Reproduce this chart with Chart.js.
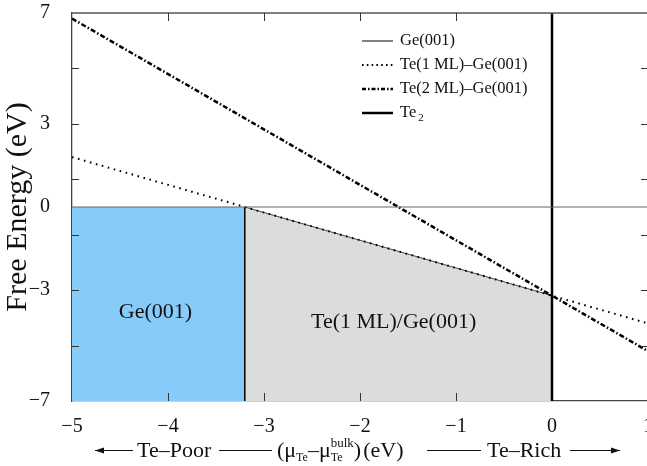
<!DOCTYPE html>
<html>
<head>
<meta charset="utf-8">
<script src="https://cdn.jsdelivr.net/npm/chart.js@4/dist/chart.umd.min.js"></script>
<style>
  html, body { margin: 0; padding: 0; overflow: hidden; background: #fff; }
  #wrap { width: 660px; height: 466px; }
</style>
</head>
<body>
<div id="wrap"><canvas id="chart"></canvas></div>
<script>
// chemical potential range (eV) and free energies of each surface
const muTe = [-5, 1];
const freeGe = [0, 0];
const freeTe1ML = [1.8, -4.2];
const freeTe2ML = [6.8, -5.2];
// Te2 bulk limit (vertical line)
const te2Mu = [0, 0];
const te2Free = [-7, 7];
// stable phase regions: Ge(001) from -5 to -3.2, Te(1 ML) from -3.2 to 0
const geRegionMu = [-5, -3.2];
const geRegionFree = [0, 0];
const teRegionMu = [-3.2, 0];
const teRegionFree = [0, -3.2];
const xTicks = [-5, -4, -3, -2, -1, 0, 1];
const yTicks = [-7, -3, 0, 3, 7];
const yMinorTicks = [5, 3, 1, -1, -3, -5];
const xMinorTicks = [-4, -3, -2, -1];
const legendLabels = ['Ge(001)', 'Te(1 ML)–Ge(001)', 'Te(2 ML)–Ge(001)', 'Te'];

const SERIF = '"Liberation Serif", "Times New Roman", serif';
const pts = (xs, ys) => xs.map((x, i) => ({ x: x, y: ys[i] }));
const minus = v => (v < 0 ? '\u2212' + Math.abs(v) : String(v));

const line = (data, extra) => Object.assign({
  data: data, showLine: true, pointRadius: 0, fill: false,
  borderColor: '#000', borderWidth: 1, order: 0
}, extra);

// frame, inward ticks, labels, legend, bottom axis caption
const decor = {
  id: 'decor',
  afterDatasetsDraw(chart) {
    const { ctx, chartArea: a, scales: { x, y } } = chart;
    ctx.save();
    // frame top/right
    ctx.strokeStyle = '#555';
    ctx.lineWidth = 1.3;
    ctx.beginPath();
    ctx.moveTo(a.left, a.top); ctx.lineTo(a.right, a.top); ctx.lineTo(a.right, a.bottom);
    ctx.stroke();
    // inward tick marks
    ctx.strokeStyle = '#333';
    ctx.lineWidth = 1;
    ctx.beginPath();
    xMinorTicks.forEach(v => {
      const px = Math.round(x.getPixelForValue(v)) + 0.5;
      ctx.moveTo(px, a.bottom); ctx.lineTo(px, a.bottom - 8);
      ctx.moveTo(px, a.top); ctx.lineTo(px, a.top + 8);
    });
    yMinorTicks.forEach(v => {
      const py = Math.round(y.getPixelForValue(v)) + 0.5;
      ctx.moveTo(a.left, py); ctx.lineTo(a.left + 7, py);
      ctx.moveTo(a.right, py); ctx.lineTo(a.right - 7, py);
    });
    ctx.stroke();

    // region labels
    ctx.fillStyle = '#111';
    ctx.textAlign = 'center';
    ctx.textBaseline = 'middle';
    ctx.font = '22px ' + SERIF;
    ctx.fillText('Ge(001)', x.getPixelForValue(-4.13), y.getPixelForValue(-3.8));
    ctx.fillText('Te(1 ML)/Ge(001)', x.getPixelForValue(-1.65), y.getPixelForValue(-4.15));

    // legend
    const styles = [
      { w: 1, dash: [] },
      { w: 2, dash: [1.6, 3.2] },
      { w: 2.5, dash: [4, 2, 1.5, 2] },
      { w: 2.5, dash: [] }
    ];
    ctx.textAlign = 'left';
    ctx.font = '16.5px ' + SERIF;
    legendLabels.forEach((lab, i) => {
      const ly = 41 + i * 24;
      ctx.strokeStyle = '#000';
      ctx.lineWidth = styles[i].w;
      ctx.setLineDash(styles[i].dash);
      ctx.beginPath(); ctx.moveTo(362, ly); ctx.lineTo(393, ly); ctx.stroke();
      ctx.setLineDash([]);
      ctx.fillText(lab, 400, ly);
      if (i === 3) {
        const w = ctx.measureText(lab).width;
        ctx.font = '11px ' + SERIF;
        ctx.fillText('2', 400 + w + 2, ly + 5);
        ctx.font = '16.5px ' + SERIF;
      }
    });

    // bottom caption
    const by = 450, base = 457;
    ctx.strokeStyle = '#111';
    ctx.fillStyle = '#111';
    ctx.lineWidth = 1;
    const hline = (x0, x1) => { ctx.beginPath(); ctx.moveTo(x0, by + 0.5); ctx.lineTo(x1, by + 0.5); ctx.stroke(); };
    const head = (xt, dir) => {
      ctx.beginPath(); ctx.moveTo(xt, by + 0.5);
      ctx.lineTo(xt - dir * 9, by - 2.5); ctx.lineTo(xt - dir * 9, by + 3.5); ctx.closePath(); ctx.fill();
    };
    hline(95, 133); head(95, -1);
    ctx.textBaseline = 'alphabetic';
    ctx.font = '22px ' + SERIF;
    ctx.fillText('Te\u2013Poor', 137, base);
    hline(219, 272);
    let cx = 277;
    const put = (s, size, dy) => {
      ctx.font = size + 'px ' + SERIF;
      ctx.fillText(s, cx, base + dy);
      return ctx.measureText(s).width;
    };
    cx += put('(\u03bc', 22, 0);
    cx += put('Te', 12, 4);
    cx += put('\u2013\u03bc', 22, 0);
    const wsup = put('bulk', 13, -10);
    const wsub = put('Te', 12, 4);
    cx += Math.max(wsup, wsub);
    cx += put(')', 22, 0) + 2;
    put('(eV)', 22, 0);
    hline(427, 481);
    ctx.font = '22px ' + SERIF;
    ctx.fillText('Te\u2013Rich', 487, base);
    hline(570, 620); head(620, 1);
    ctx.restore();
  }
};

new Chart(document.getElementById('chart'), {
  type: 'scatter',
  data: {
    datasets: [
      line(pts(geRegionMu, geRegionFree), { fill: 'start', backgroundColor: '#87cbfa', borderWidth: 0, order: 10 }),
      line(pts(teRegionMu, teRegionFree), { fill: 'start', backgroundColor: '#dcdcdc', borderColor: '#444', borderWidth: 1, order: 9 }),
      line(pts(muTe, freeGe), { borderColor: '#666', borderWidth: 1.2 }),
      line(pts(muTe, freeTe1ML), { borderWidth: 2, borderDash: [1.6, 4.6] }),
      line(pts(muTe, freeTe2ML), { borderWidth: 2.5, borderDash: [5, 2.2, 1.5, 2.2] }),
      line(pts(te2Mu, te2Free), { borderWidth: 2.5 }),
      line(pts([teRegionMu[0], teRegionMu[0]], [-7, teRegionFree[0]]), { borderWidth: 1.5 })
    ]
  },
  options: {
    responsive: true,
    maintainAspectRatio: false,
    animation: false,
    layout: { padding: { top: 13, right: 12, left: 0, bottom: 0 } },
    plugins: { legend: { display: false }, tooltip: { enabled: false } },
    scales: {
      x: {
        type: 'linear', min: -5, max: 1,
        afterBuildTicks: s => { s.ticks = xTicks.map(v => ({ value: v })); },
        afterFit: s => { s.height = 65; s.paddingLeft = 0; s.paddingRight = 0; },
        grid: { display: false },
        border: { display: true, color: '#444', width: 1.3 },
        ticks: { padding: 6, color: '#111', font: { family: SERIF, size: 20 }, callback: v => minus(v), maxRotation: 0 }
      },
      y: {
        type: 'linear', min: -7, max: 7,
        afterBuildTicks: s => { s.ticks = yTicks.map(v => ({ value: v })); },
        afterFit: s => { s.width = 72; s.paddingTop = 0; s.paddingBottom = 0; },
        grid: { display: false },
        border: { display: true, color: '#444', width: 1.3 },
        ticks: { padding: 14, color: '#111', font: { family: SERIF, size: 20 }, callback: v => minus(v) },
        title: { display: true, text: 'Free Energy (eV)', color: '#111', padding: 0, font: { family: SERIF, size: 30 } }
      }
    }
  },
  plugins: [decor]
});
</script>
</body>
</html>
